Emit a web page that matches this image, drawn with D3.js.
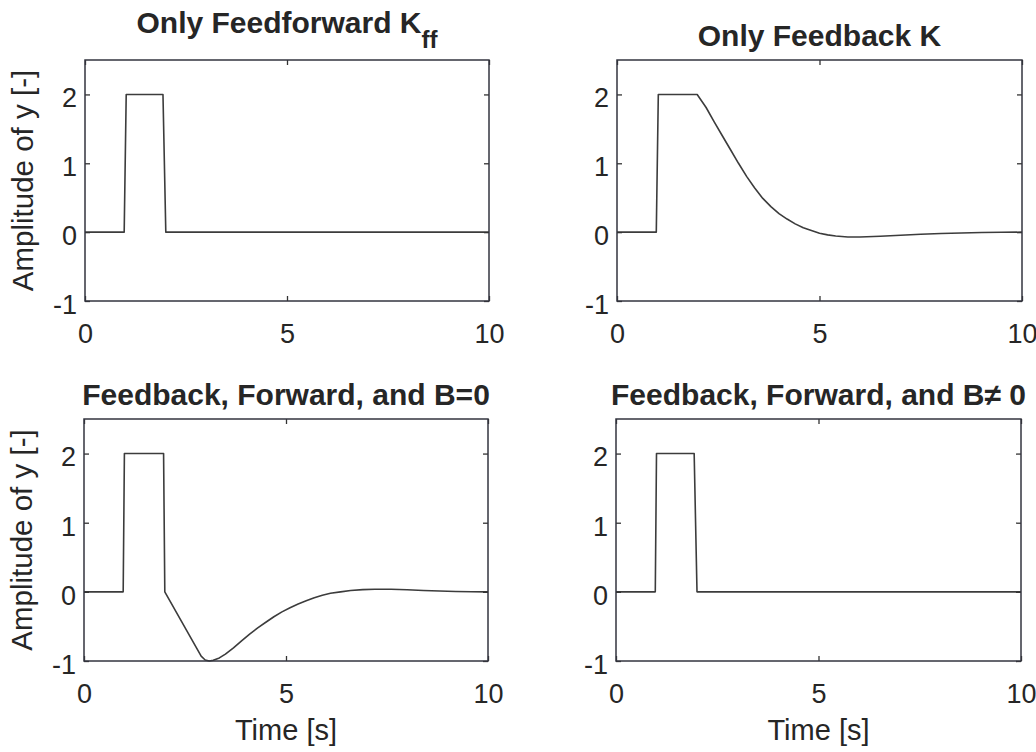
<!DOCTYPE html>
<html>
<head>
<meta charset="utf-8">
<script src="https://cdn.jsdelivr.net/npm/d3@7"></script>
<style>
  body { margin: 0; background: #fff; }
  svg { display: block; font-family: "Liberation Sans", Arial, Helvetica, sans-serif; }
</style>
</head>
<body>
<script>
const w = 1036;
const h = 752;

// Series (time in s, amplitude of y)
const timeFF = [0, 0.97, 1.02, 1.93, 2.0, 10];
const ampFF = [0, 0, 2, 2, 0, 0];

const timeFB = [0, 0.97, 1.02, 1.98, 2.2, 2.4, 2.6, 2.8, 3.0, 3.2, 3.4, 3.6, 3.8, 4.0, 4.2, 4.4, 4.6, 4.8, 5.0, 5.2, 5.4, 5.7, 6.0, 6.5, 7.0, 7.5, 8.0, 8.5, 9.0, 9.5, 10];
const ampFB = [0, 0, 2, 2, 1.81, 1.6, 1.4, 1.2, 1.0, 0.81, 0.64, 0.49, 0.37, 0.27, 0.19, 0.12, 0.065, 0.025, -0.015, -0.04, -0.055, -0.07, -0.07, -0.06, -0.045, -0.03, -0.02, -0.012, -0.006, -0.002, 0];

const timeB0 = [0, 0.97, 1.0, 1.97, 2.0, 2.9, 3.0, 3.1, 3.2, 3.35, 3.5, 3.7, 3.9, 4.1, 4.3, 4.5, 4.7, 4.9, 5.1, 5.3, 5.5, 5.7, 5.9, 6.1, 6.35, 6.6, 6.9, 7.2, 7.6, 8.0, 8.4, 8.8, 9.2, 9.6, 10];
const ampB0 = [0, 0, 2, 2, 0, -0.93, -0.985, -1.0, -0.99, -0.955, -0.9, -0.81, -0.71, -0.61, -0.52, -0.44, -0.36, -0.29, -0.23, -0.175, -0.13, -0.085, -0.05, -0.02, 0.0, 0.02, 0.032, 0.038, 0.038, 0.03, 0.02, 0.012, 0.006, 0.002, 0];

const timeBn = [0, 0.97, 1.0, 1.93, 2.0, 10];
const ampBn = [0, 0, 2, 2, 0, 0];

const titles = ["Only Feedforward K", "Only Feedback K", "Feedback, Forward, and B=0", "Feedback, Forward, and B\u2260 0"];
const xTicks = [0, 5, 10];
const yTicks = [-1, 0, 1, 2];
const xDomain = [0, 10];
const yDomain = [-1, 2.5];

const textColor = "#262626";
const lineColor = "#3c3c3c";

// subplot boxes
const panels = [
  { l: 85, r: 489, t: 60, b: 301, time: timeFF, amp: ampFF, title: titles[0], sub: "ff", titleY: 33, ylab: true, xlab: false },
  { l: 617, r: 1022, t: 60, b: 301, time: timeFB, amp: ampFB, title: titles[1], titleY: 46, ylab: false, xlab: false },
  { l: 84, r: 488, t: 419, b: 661, time: timeB0, amp: ampB0, title: titles[2], titleY: 405, ylab: true, xlab: true },
  { l: 616, r: 1021, t: 419, b: 661, time: timeBn, amp: ampBn, title: titles[3], titleY: 405, ylab: false, xlab: true }
];

const svg = d3
  .select("body")
  .append("svg")
  .attr("width", w)
  .attr("height", h);

svg.append("rect").attr("width", w).attr("height", h).attr("fill", "#fff");

panels.forEach(function (p, i) {
  const x = d3.scaleLinear().domain(xDomain).range([p.l, p.r]);
  const y = d3.scaleLinear().domain(yDomain).range([p.b, p.t]);
  const g = svg.append("g");

  // clip to the axes box
  g.append("clipPath")
    .attr("id", "clip" + i)
    .append("rect")
    .attr("x", p.l)
    .attr("y", p.t - 1)
    .attr("width", p.r - p.l)
    .attr("height", p.b - p.t + 2);

  const line = d3
    .line()
    .x((d) => x(d[0]))
    .y((d) => y(d[1]));

  g.append("path")
    .datum(d3.zip(p.time, p.amp))
    .attr("clip-path", "url(#clip" + i + ")")
    .attr("fill", "none")
    .attr("stroke", lineColor)
    .attr("stroke-width", 1.6)
    .attr("stroke-linejoin", "round")
    .attr("d", line);

  // axes (ticks inward, on all four sides)
  const fmt = (d) => String(d);
  const bottom = g.append("g")
    .attr("transform", `translate(0,${p.b})`)
    .call(d3.axisBottom(x).tickValues(xTicks).tickFormat(fmt).tickSizeInner(-5).tickSizeOuter(0).tickPadding(22));
  const top = g.append("g")
    .attr("transform", `translate(0,${p.t})`)
    .call(d3.axisTop(x).tickValues(xTicks).tickSizeInner(-5).tickSizeOuter(0).tickFormat(""));
  const left = g.append("g")
    .attr("transform", `translate(${p.l},0)`)
    .call(d3.axisLeft(y).tickValues(yTicks).tickFormat(fmt).tickSizeInner(-5).tickSizeOuter(0).tickPadding(8));
  const right = g.append("g")
    .attr("transform", `translate(${p.r},0)`)
    .call(d3.axisRight(y).tickValues(yTicks).tickSizeInner(-5).tickSizeOuter(0).tickFormat(""));

  [bottom, top, left, right].forEach(function (a) {
    a.select(".domain").remove();
    a.selectAll(".tick line").attr("stroke", "#333").attr("stroke-width", 1.3);
    a.selectAll(".tick text")
      .attr("fill", textColor)
      .style("font-size", "27px")
      .style("font-family", "'Liberation Sans', Arial, sans-serif");
  });
  left.selectAll(".tick text").attr("dy", "0.46em");
  bottom.selectAll(".tick text").attr("dy", "0.74em");

  // box
  g.append("rect")
    .attr("x", p.l)
    .attr("y", p.t)
    .attr("width", p.r - p.l)
    .attr("height", p.b - p.t)
    .attr("fill", "none")
    .attr("stroke", "#33353f")
    .attr("stroke-width", 1.5);

  // title
  const title = g.append("text")
    .attr("x", (p.l + p.r) / 2)
    .attr("y", p.titleY)
    .attr("text-anchor", "middle")
    .attr("fill", textColor)
    .style("font-size", "30px")
    .style("font-weight", "bold")
    .text(p.title);
  if (p.sub) {
    title.append("tspan")
      .attr("dy", 15)
      .style("font-size", "24px")
      .text(p.sub);
  }

  if (p.ylab) {
    g.append("text")
      .attr("transform", `translate(${p.l - 52},${(p.t + p.b) / 2}) rotate(-90)`)
      .attr("text-anchor", "middle")
      .attr("fill", textColor)
      .style("font-size", "29.5px")
      .text("Amplitude of y [-]");
  }
  if (p.xlab) {
    g.append("text")
      .attr("x", (p.l + p.r) / 2)
      .attr("y", p.b + 79)
      .attr("text-anchor", "middle")
      .attr("fill", textColor)
      .style("font-size", "29px")
      .text("Time [s]");
  }
});
</script>
</body>
</html>
